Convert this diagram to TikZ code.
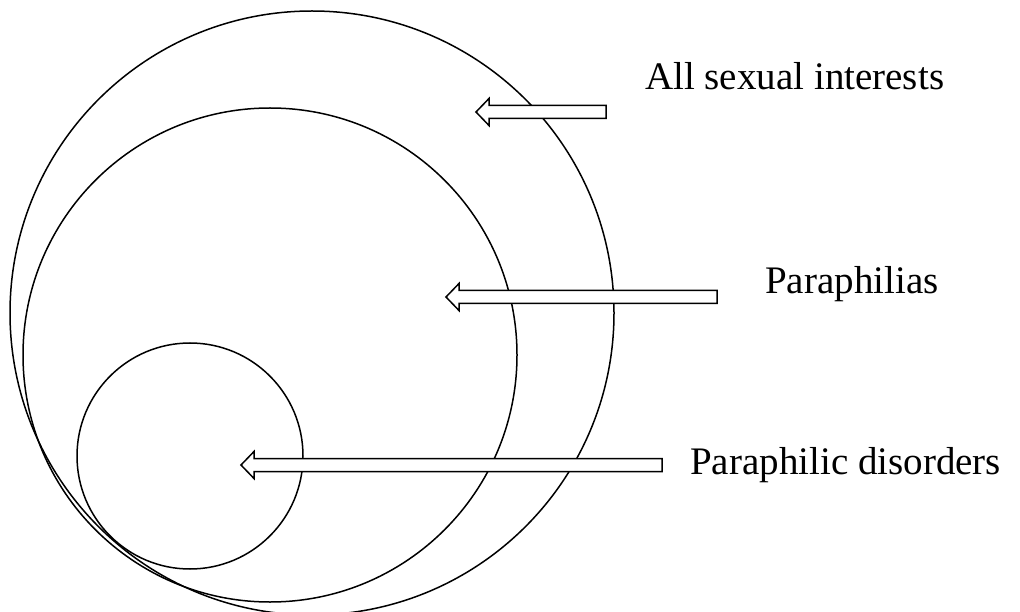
\documentclass[tikz,border=0pt]{standalone}
\usepackage{fontspec}
\setmainfont{Liberation Serif}
\newcommand\blockarr[3]{%
  \draw[blockarrow] (#1,#2-6.5) -- (#3+13,#2-6.5) -- (#3+13,#2-13.5) -- (#3,#2) -- (#3+13,#2+13.5) -- (#3+13,#2+6.5) -- (#1,#2+6.5) -- cycle;}
\begin{document}
\begin{tikzpicture}[x=1pt,y=-1pt,
  circ/.style={line width=1.5pt, draw=black},
  blockarrow/.style={line width=1.5pt, draw=black, fill=white, line join=miter},
  lbl/.style={font=\fontsize{39}{45}\selectfont, anchor=base west, inner sep=0pt}]
\useasboundingbox (0,0) rectangle (1020,612);
\fill[white] (0,0) rectangle (1020,612);
\draw[circ] (312,313) circle[radius=302];
\draw[circ] (270,355) circle[radius=247];
\draw[circ] (190,456) circle[radius=113];
\blockarr{606}{112}{476}
\blockarr{717}{297}{446}
\blockarr{662}{465}{241}
\node[lbl] (all) at (645,90) {All sexual interests};
\node[lbl] (para) at (765,294) {Paraphilias};
\node[lbl] (dis) at (690,474) {Paraphilic disorders};
\end{tikzpicture}
\end{document}
